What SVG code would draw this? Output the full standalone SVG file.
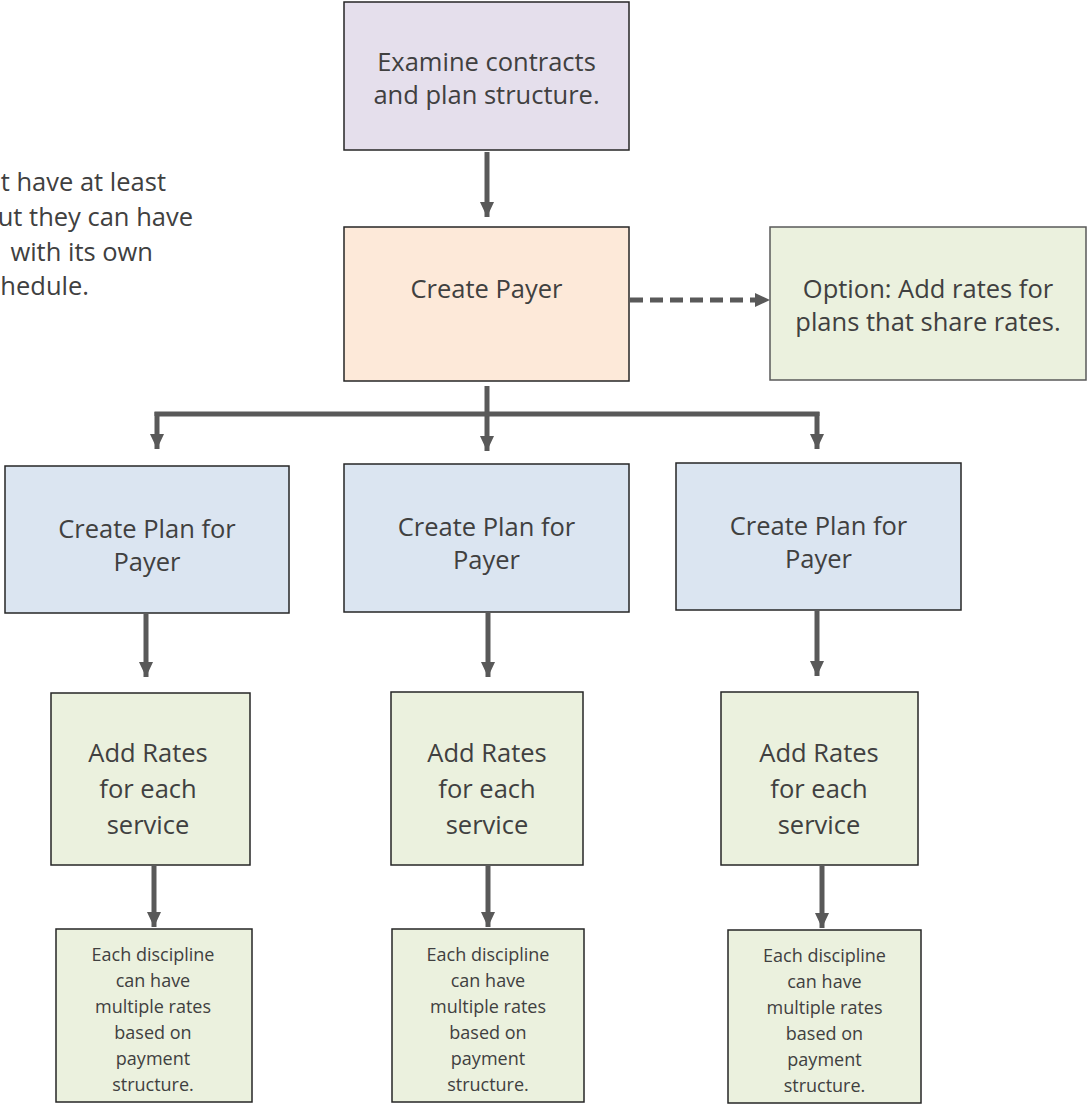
<svg xmlns="http://www.w3.org/2000/svg" width="1087" height="1105" viewBox="0 0 1087 1105">
<defs>
<style>
.box{stroke:#262626;stroke-width:1.5}
.lav{fill:#e5dfec}
.peach{fill:#fde9d9}
.green{fill:#ebf1de}
.blue{fill:#dbe5f1}
.t{font-family:"Open Sans","Liberation Sans",sans-serif;font-size:25.5px;fill:#404040;text-anchor:middle}
.s{font-family:"Open Sans","Liberation Sans",sans-serif;font-size:18px;fill:#404040;text-anchor:middle}
.note{font-family:"Open Sans","Liberation Sans",sans-serif;font-size:25.5px;fill:#404040;text-anchor:end}
.c{stroke:#595959;stroke-width:5;fill:none}
</style>
<marker id="ah" markerUnits="userSpaceOnUse" markerWidth="16" markerHeight="15" refX="15" refY="7" orient="auto">
<path d="M0,0 L15,7 L0,14 z" fill="#595959"/>
</marker>
</defs>
<rect width="1087" height="1105" fill="#ffffff"/>

<g id="note">
<text class="note" x="166" y="191">t have at least</text>
<text class="note" x="193" y="226">ut they can have</text>
<text class="note" x="153" y="261">with its own</text>
<text class="note" x="89" y="295">hedule.</text>
</g>

<g id="connectors">
<line class="c" x1="487" y1="152" x2="487" y2="217" marker-end="url(#ah)"/>
<line class="c" x1="630" y1="300" x2="770" y2="300" stroke-dasharray="13,7" marker-end="url(#ah)"/>
<line class="c" x1="487" y1="386" x2="487" y2="451" marker-end="url(#ah)"/>
<polyline class="c" points="157,416 157,414 817,414 817,416"/>
<line class="c" x1="157" y1="412" x2="157" y2="449" marker-end="url(#ah)"/>
<line class="c" x1="817" y1="412" x2="817" y2="449" marker-end="url(#ah)"/>
<line class="c" x1="146" y1="614" x2="146" y2="677" marker-end="url(#ah)"/>
<line class="c" x1="488" y1="613" x2="488" y2="677" marker-end="url(#ah)"/>
<line class="c" x1="817" y1="611" x2="817" y2="676" marker-end="url(#ah)"/>
<line class="c" x1="154" y1="866" x2="154" y2="927" marker-end="url(#ah)"/>
<line class="c" x1="488" y1="866" x2="488" y2="927" marker-end="url(#ah)"/>
<line class="c" x1="822" y1="866" x2="822" y2="928" marker-end="url(#ah)"/>
</g>

<g id="examine">
<rect class="box lav" x="344" y="2" width="285" height="148"/>
<text class="t" x="486.5" y="71">Examine contracts</text>
<text class="t" x="486.5" y="104">and plan structure.</text>
</g>

<g id="payer">
<rect class="box peach" x="344" y="227" width="285" height="154"/>
<text class="t" x="486.5" y="298">Create Payer</text>
</g>

<g id="option">
<rect class="box green" x="770" y="227" width="316" height="153" style="stroke:#595959"/>
<text class="t" x="928" y="298">Option: Add rates for</text>
<text class="t" x="928" y="331">plans that share rates.</text>
</g>

<g id="plan1">
<rect class="box blue" x="5" y="466" width="284" height="147"/>
<text class="t" x="147" y="538">Create Plan for</text>
<text class="t" x="147" y="571">Payer</text>
</g>
<g id="plan2">
<rect class="box blue" x="344" y="464" width="285" height="148"/>
<text class="t" x="486.5" y="536">Create Plan for</text>
<text class="t" x="486.5" y="569">Payer</text>
</g>
<g id="plan3">
<rect class="box blue" x="676" y="463" width="285" height="147"/>
<text class="t" x="818.5" y="535">Create Plan for</text>
<text class="t" x="818.5" y="568">Payer</text>
</g>

<g id="rates1">
<rect class="box green" x="51" y="693" width="199" height="172"/>
<text class="t" x="148" y="762">Add Rates</text>
<text class="t" x="148" y="798">for each</text>
<text class="t" x="148" y="834">service</text>
</g>
<g id="rates2">
<rect class="box green" x="391" y="692" width="192" height="173"/>
<text class="t" x="487" y="762">Add Rates</text>
<text class="t" x="487" y="798">for each</text>
<text class="t" x="487" y="834">service</text>
</g>
<g id="rates3">
<rect class="box green" x="721" y="692" width="197" height="173"/>
<text class="t" x="819" y="762">Add Rates</text>
<text class="t" x="819" y="798">for each</text>
<text class="t" x="819" y="834">service</text>
</g>

<g id="detail1">
<rect class="box green" x="56" y="929" width="196" height="173"/>
<text class="s" x="153" y="961">Each discipline</text>
<text class="s" x="153" y="987">can have</text>
<text class="s" x="153" y="1013">multiple rates</text>
<text class="s" x="153" y="1039">based on</text>
<text class="s" x="153" y="1065">payment</text>
<text class="s" x="153" y="1091">structure.</text>
</g>
<g id="detail2">
<rect class="box green" x="392" y="929" width="192" height="173"/>
<text class="s" x="488" y="961">Each discipline</text>
<text class="s" x="488" y="987">can have</text>
<text class="s" x="488" y="1013">multiple rates</text>
<text class="s" x="488" y="1039">based on</text>
<text class="s" x="488" y="1065">payment</text>
<text class="s" x="488" y="1091">structure.</text>
</g>
<g id="detail3">
<rect class="box green" x="728" y="930" width="193" height="173"/>
<text class="s" x="824.5" y="962">Each discipline</text>
<text class="s" x="824.5" y="988">can have</text>
<text class="s" x="824.5" y="1014">multiple rates</text>
<text class="s" x="824.5" y="1040">based on</text>
<text class="s" x="824.5" y="1066">payment</text>
<text class="s" x="824.5" y="1092">structure.</text>
</g>
</svg>
